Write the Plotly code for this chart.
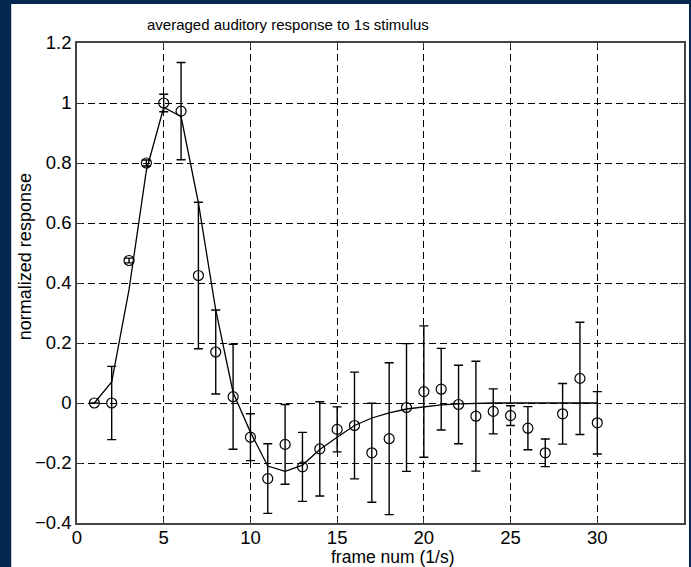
import plotly.graph_objects as go

# Frame number (1/s) of each averaged response sample
frames = list(range(1, 31))

# Mean normalized response per frame
response = [0.0, 0.0, 0.475, 0.80, 1.0, 0.973, 0.425, 0.17, 0.021, -0.114,
            -0.252, -0.138, -0.213, -0.153, -0.088, -0.075, -0.166, -0.119, -0.015, 0.038,
            0.046, -0.005, -0.044, -0.028, -0.042, -0.084, -0.166, -0.036, 0.082, -0.066]

# Standard error of each sample
std_err = [0.0, 0.122, 0.008, 0.01, 0.029, 0.162, 0.244, 0.14, 0.175, 0.078,
           0.116, 0.133, 0.115, 0.157, 0.075, 0.178, 0.165, 0.253, 0.213, 0.219,
           0.136, 0.131, 0.183, 0.075, 0.033, 0.072, 0.046, 0.101, 0.187, 0.104]

# Fitted response model evaluated at each frame
fit = [0.0, 0.07, 0.378, 0.775, 0.985, 0.955, 0.667, 0.31, 0.035, -0.097,
       -0.21, -0.228, -0.207, -0.155, -0.114, -0.075, -0.05, -0.033, -0.02, -0.012,
       -0.006, -0.003, -0.001, 0.0, 0.0, 0.0, 0.0, 0.0, 0.0, 0.0]

x_ticks = [0, 5, 10, 15, 20, 25, 30, 35]
y_ticks = [-0.4, -0.2, 0, 0.2, 0.4, 0.6, 0.8, 1, 1.2]
y_tick_text = ["\u22120.4", "\u22120.2", "0", "0.2", "0.4", "0.6", "0.8", "1", "1.2"]

FONT = "Liberation Sans, Arial, Helvetica, sans-serif"
NAVY = "#052850"

# plot area in pixels
W, H = 691, 567
L, R, T, B = 77, 5, 43, 44
pw, ph = W - L - R, H - T - B


def px_x(p):
    return (p - L) / pw


def px_y(p):
    return (H - B - p) / ph


fig = go.Figure()

fig.add_trace(go.Scatter(
    x=frames, y=response,
    mode="markers",
    marker=dict(symbol="circle-open", size=10, color="black",
                line=dict(width=1.2, color="black")),
    error_y=dict(type="data", array=std_err, visible=True,
                 color="black", thickness=1.4, width=4.5),
    showlegend=False,
))

fig.add_trace(go.Scatter(
    x=frames, y=fit,
    mode="lines",
    line=dict(color="black", width=1.3),
    showlegend=False,
))

axis_common = dict(
    showline=True, linecolor="#444", linewidth=1.5, mirror="ticks",
    ticks="inside", ticklen=5, tickcolor="#333", tickwidth=1,
    showgrid=True, gridcolor="#000", gridwidth=1.3, griddash="7px,4px",
    zeroline=False,
    tickfont=dict(family=FONT, size=18.5, color="black"),
)

fig.update_xaxes(range=[0, 35], tickvals=x_ticks, ticklabelstandoff=-3,
                 **axis_common)
fig.update_yaxes(range=[-0.4, 1.2], tickvals=y_ticks, ticktext=y_tick_text,
                 **axis_common)

fig.update_layout(
    width=W, height=H,
    margin=dict(l=L, r=R, t=T, b=B, pad=0),
    paper_bgcolor=NAVY,
    plot_bgcolor="white",
    shapes=[
        # white page area inside the dark border
        dict(type="rect", xref="paper", yref="paper", layer="below",
             x0=px_x(11), x1=px_x(W), y0=px_y(H), y1=px_y(4),
             fillcolor="white", line=dict(width=0)),
    ],
    annotations=[
        dict(text="averaged auditory response to 1s stimulus",
             xref="paper", yref="paper", x=px_x(289), y=px_y(24),
             xanchor="center", yanchor="middle", showarrow=False,
             font=dict(family=FONT, size=15, color="black")),
        dict(text="frame num (1/s)",
             xref="paper", yref="paper", x=px_x(394), y=px_y(557),
             xanchor="center", yanchor="middle", showarrow=False,
             font=dict(family=FONT, size=17.5, color="black")),
        dict(text="normalized response",
             xref="paper", yref="paper", x=px_x(25), y=px_y(257),
             xanchor="center", yanchor="middle", showarrow=False,
             textangle=-90,
             font=dict(family=FONT, size=18, color="black")),
    ],
)

fig.write_html("out.html")
